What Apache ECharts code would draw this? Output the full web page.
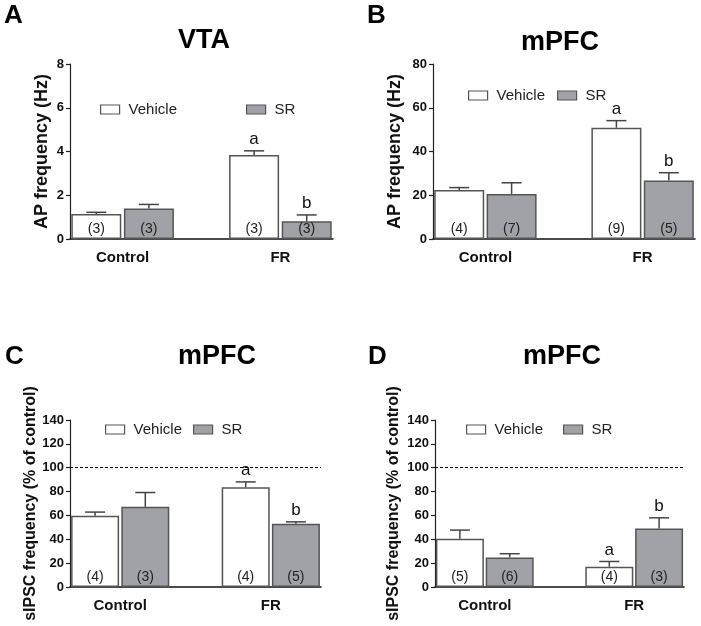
<!DOCTYPE html>
<html>
<head>
<meta charset="utf-8">
<script src="https://cdn.jsdelivr.net/npm/echarts@6/dist/echarts.min.js"></script>
<style>
html,body{margin:0;padding:0;background:#fff;}
#chart{width:701px;height:626px;}
</style>
</head>
<body>
<div id="chart"></div>
<script>
// ---------- data ----------
const categories = ['Control', 'FR'];
const seriesNames = ['Vehicle', 'SR'];
const panelLetters = ['A', 'B', 'C', 'D'];
const panelTitles = ['VTA', 'mPFC', 'mPFC', 'mPFC'];
const yAxisTitles = ['AP frequency (Hz)', 'AP frequency (Hz)', 'sIPSC frequency (% of control)', 'sIPSC frequency (% of control)'];
const yMax = [8, 80, 140, 140];
const yStep = [2, 20, 20, 20];
const referenceLine = [null, null, 100, 100];

// Panel A: VTA AP frequency
const vtaVehicle = [1.14, 3.84];
const vtaVehicleSem = [0.08, 0.19];
const vtaSR = [1.40, 0.81];
const vtaSRSem = [0.18, 0.29];
const vtaVehicleN = [3, 3];
const vtaSRN = [3, 3];
const vtaVehicleSig = ['', 'a'];
const vtaSRSig = ['', 'b'];

// Panel B: mPFC AP frequency
const pfcApVehicle = [22.4, 50.9];
const pfcApVehicleSem = [1.1, 3.2];
const pfcApSR = [20.6, 26.7];
const pfcApSRSem = [5.1, 3.6];
const pfcApVehicleN = [4, 9];
const pfcApSRN = [7, 5];
const pfcApVehicleSig = ['', 'a'];
const pfcApSRSig = ['', 'b'];

// Panel C: mPFC sIPSC frequency
const ipscCVehicle = [59.7, 83.7];
const ipscCVehicleSem = [3.1, 4.4];
const ipscCSR = [67.2, 53.0];
const ipscCSRSem = [12.0, 1.6];
const ipscCVehicleN = [4, 4];
const ipscCSRN = [3, 5];
const ipscCVehicleSig = ['', 'a'];
const ipscCSRSig = ['', 'b'];

// Panel D: mPFC sIPSC frequency
const ipscDVehicle = [40.4, 17.0];
const ipscDVehicleSem = [7.3, 4.4];
const ipscDSR = [24.8, 49.0];
const ipscDSRSem = [3.1, 9.0];
const ipscDVehicleN = [5, 4];
const ipscDSRN = [6, 3];
const ipscDVehicleSig = ['', 'a'];
const ipscDSRSig = ['', 'b'];

const panels = [
  {vehicle: vtaVehicle, vehicleSem: vtaVehicleSem, sr: vtaSR, srSem: vtaSRSem, vehicleN: vtaVehicleN, srN: vtaSRN, vehicleSig: vtaVehicleSig, srSig: vtaSRSig},
  {vehicle: pfcApVehicle, vehicleSem: pfcApVehicleSem, sr: pfcApSR, srSem: pfcApSRSem, vehicleN: pfcApVehicleN, srN: pfcApSRN, vehicleSig: pfcApVehicleSig, srSig: pfcApSRSig},
  {vehicle: ipscCVehicle, vehicleSem: ipscCVehicleSem, sr: ipscCSR, srSem: ipscCSRSem, vehicleN: ipscCVehicleN, srN: ipscCSRN, vehicleSig: ipscCVehicleSig, srSig: ipscCSRSig},
  {vehicle: ipscDVehicle, vehicleSem: ipscDVehicleSem, sr: ipscDSR, srSem: ipscDSRSem, vehicleN: ipscDVehicleN, srN: ipscDSRN, vehicleSig: ipscDVehicleSig, srSig: ipscDSRSig}
];

// ---------- layout / style ----------
const FONT = 'Liberation Sans, Arial, Helvetica, sans-serif';
const INK = '#111';
const BAR_BORDER = '#555';
const GRAY = '#a0a2a7';
const grids = [
  {left: 70, top: 64, width: 263, height: 175},
  {left: 433, top: 64, width: 262, height: 175},
  {left: 70, top: 420, width: 251, height: 167},
  {left: 435, top: 420, width: 249, height: 167}
];
const barWidths = [50, 50, 48, 48];
const nameGaps = [19, 29, 25, 33];
const legendPos = [
  [{left: 100, top: 102}, {left: 246, top: 102}],
  [{left: 468, top: 88}, {left: 557, top: 88}],
  [{left: 105, top: 422}, {left: 193, top: 422}],
  [{left: 466, top: 422}, {left: 563, top: 422}]
];
const letterPos = [[4, 16], [367, 16], [5, 357], [368, 357]];
const titlePos = [[204, 41], [560, 43], [217, 357], [562, 357]];

// slot position on the x value axis: each group = Vehicle slot, SR slot, empty slot
const slotX = (g, s) => g * 3 + s + 0.5;

const option = {
  backgroundColor: '#fff',
  animation: false,
  grid: [], xAxis: [], yAxis: [], series: [], legend: [], graphic: []
};

const seriesStyles = [
  {color: '#ffffff', borderColor: BAR_BORDER, borderWidth: 1.5},
  {color: GRAY, borderColor: BAR_BORDER, borderWidth: 1.5}
];

panels.forEach((p, i) => {
  option.grid.push(Object.assign({containLabel: false}, grids[i]));
  option.xAxis.push({
    type: 'value', gridIndex: i, min: 0, max: categories.length * 3 - 1, interval: 1,
    axisLine: {show: true, onZero: false, lineStyle: {color: INK, width: 1.5}},
    axisTick: {show: false},
    splitLine: {show: false},
    axisLabel: {
      show: true, margin: 11, color: INK, fontFamily: FONT, fontWeight: 'bold', fontSize: 15,
      showMinLabel: true, showMaxLabel: true,
      formatter: v => { const g = (v - 1) / 3; return Number.isInteger(g) && categories[g] ? categories[g] : ''; }
    }
  });
  option.yAxis.push({
    type: 'value', gridIndex: i, min: 0, max: yMax[i], interval: yStep[i],
    name: yAxisTitles[i], nameLocation: 'middle', nameRotate: 90, nameGap: nameGaps[i],
    nameTextStyle: {fontFamily: FONT, fontWeight: 'bold', fontSize: i < 2 ? 18 : 16, color: INK},
    axisLine: {show: true, lineStyle: {color: '#222', width: 1.2}},
    axisTick: {show: true, length: 4, lineStyle: {color: '#222', width: 1.2}},
    splitLine: {show: false},
    axisLabel: {margin: 6, color: INK, fontFamily: FONT, fontWeight: 'bold', fontSize: 13}
  });

  const groups = [
    {name: seriesNames[0], vals: p.vehicle, sem: p.vehicleSem, n: p.vehicleN, sig: p.vehicleSig, s: 0},
    {name: seriesNames[1], vals: p.sr, sem: p.srSem, n: p.srN, sig: p.srSig, s: 1}
  ];
  groups.forEach((gr, k) => {
    const bar = {
      type: 'bar', name: gr.name, xAxisIndex: i, yAxisIndex: i,
      barWidth: barWidths[i], barGap: '-100%',
      itemStyle: seriesStyles[k],
      label: {
        show: true, position: 'insideBottom', distance: 3,
        fontFamily: FONT, fontSize: 14, color: '#222',
        formatter: prm => '(' + prm.data.n + ')'
      },
      data: gr.vals.map((v, g) => ({value: [slotX(g, gr.s), v], n: gr.n[g]})),
      z: 2
    };
    if (k === 0 && referenceLine[i] != null) {
      bar.markLine = {
        silent: true, symbol: 'none', label: {show: false},
        lineStyle: {type: [3, 2], color: '#000', width: 1},
        data: [{yAxis: referenceLine[i]}]
      };
    }
    option.series.push(bar);
    option.series.push({
      type: 'custom', name: gr.name + ' SEM', xAxisIndex: i, yAxisIndex: i, z: 3,
      data: gr.vals.map((v, g) => [slotX(g, gr.s), v, v + gr.sem[g], gr.sig[g]]),
      renderItem: (params, api) => {
        const x = api.value(0);
        const top = api.coord([x, api.value(1)]);
        const err = api.coord([x, api.value(2)]);
        const half = 10;
        const children = [
          {type: 'line', shape: {x1: top[0], y1: top[1], x2: err[0], y2: err[1]}, style: {stroke: '#444', lineWidth: 1.5}},
          {type: 'line', shape: {x1: err[0] - half, y1: err[1], x2: err[0] + half, y2: err[1]}, style: {stroke: '#444', lineWidth: 1.5}}
        ];
        const sig = params.dataIndex != null ? gr.sig[params.dataIndex] : '';
        if (sig) {
          children.push({type: 'text', style: {text: sig, x: err[0], y: err[1] - 3, textAlign: 'center', textVerticalAlign: 'bottom', fontFamily: FONT, fontSize: 17, fill: '#111'}});
        }
        return {type: 'group', children};
      }
    });
    option.legend.push({
      show: true, orient: 'horizontal', left: legendPos[i][k].left, top: legendPos[i][k].top, padding: 0,
      icon: 'rect', itemWidth: 19, itemHeight: 9, selectedMode: false,
      textStyle: {fontFamily: FONT, fontSize: 15, color: '#222', padding: [0, 0, 0, 4]},
      data: [{name: gr.name, itemStyle: {color: seriesStyles[k].color, borderColor: '#555', borderWidth: 1.2}}]
    });
  });

  option.graphic.push({
    type: 'text', left: letterPos[i][0], top: letterPos[i][1] - 13,
    style: {text: panelLetters[i], fontFamily: FONT, fontWeight: 'bold', fontSize: 26, fill: '#000'}
  });
  option.graphic.push({
    type: 'text', x: titlePos[i][0], y: titlePos[i][1],
    style: {text: panelTitles[i], fontFamily: FONT, fontWeight: 'bold', fontSize: 27, fill: '#000', textAlign: 'center', textVerticalAlign: 'middle'}
  });
});

const chart = echarts.init(document.getElementById('chart'), null, {renderer: 'canvas'});
chart.setOption(option);
</script>
</body>
</html>
